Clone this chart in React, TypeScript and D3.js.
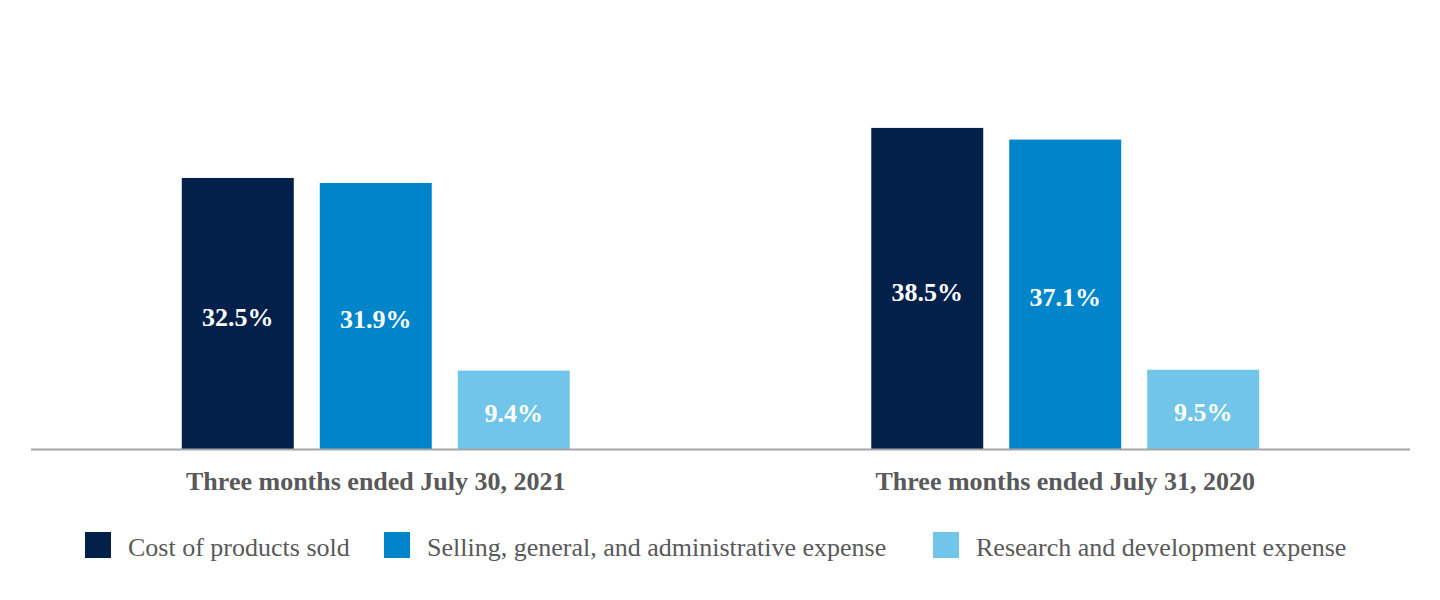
import { useEffect, useRef } from "react";
import * as d3 from "d3";

const periods = ["Three months ended July 30, 2021", "Three months ended July 31, 2020"];
const seriesNames = [
  "Cost of products sold",
  "Selling, general, and administrative expense",
  "Research and development expense",
];
const seriesColors = ["#03204a", "#0085ca", "#71c5e8"];
// values in percent, by period then series
const costValues = [32.5, 38.5];
const sgaValues = [31.9, 37.1];
const rdValues = [9.4, 9.5];

export default function App() {
  const svgRef = useRef<SVGSVGElement>(null);

  useEffect(() => {
    if (!svgRef.current) return;
    const width = 1440;
    const height = 600;
    const baseY = 449;

    const svg = d3.select(svgRef.current);
    svg.selectAll("*").remove();
    svg.attr("width", width).attr("height", height);

    const values = [costValues, sgaValues, rdValues];
    const rows = periods.map((p, i) => ({
      period: p,
      items: seriesNames.map((s, j) => ({ series: s, value: values[j][i], color: seriesColors[j] })),
    }));

    // Scales
    const x0 = d3.scaleBand<string>().domain(periods).range([31, 1410]).paddingInner(0.4373).paddingOuter(0.2187);
    const x1 = d3.scaleBand<string>().domain(seriesNames).range([0, x0.bandwidth()]).paddingInner(0.1884);
    const y = d3.scaleLinear().domain([0, 50]).range([baseY, 32]);

    const groups = svg
      .selectAll(".grp")
      .data(rows)
      .enter()
      .append("g")
      .attr("class", "grp")
      .attr("transform", (d) => `translate(${x0(d.period)},0)`);

    groups
      .selectAll("rect")
      .data((d) => d.items)
      .enter()
      .append("rect")
      .attr("x", (d) => x1(d.series)!)
      .attr("y", (d) => y(d.value))
      .attr("width", x1.bandwidth())
      .attr("height", (d) => baseY - y(d.value))
      .attr("fill", (d) => d.color);

    groups
      .selectAll("text.val")
      .data((d) => d.items)
      .enter()
      .append("text")
      .attr("class", "val")
      .attr("x", (d) => x1(d.series)! + x1.bandwidth() / 2)
      .attr("y", (d) => (y(d.value) + baseY) / 2 + 3)
      .attr("dy", "0.35em")
      .attr("text-anchor", "middle")
      .attr("fill", "#fff")
      .attr("font-family", "'Liberation Serif', 'Times New Roman', serif")
      .attr("font-weight", "bold")
      .attr("font-size", "26px")
      .text((d) => `${d.value.toFixed(1)}%`);

    // Axis line
    svg
      .append("line")
      .attr("x1", 31)
      .attr("x2", 1410)
      .attr("y1", baseY + 0.5)
      .attr("y2", baseY + 0.5)
      .attr("stroke", "#a6a6a6")
      .attr("stroke-width", 2);

    // Category labels
    svg
      .selectAll("text.cat")
      .data(periods)
      .enter()
      .append("text")
      .attr("class", "cat")
      .attr("x", (d) => x0(d)! + x0.bandwidth() / 2)
      .attr("y", 490)
      .attr("text-anchor", "middle")
      .attr("fill", "#595959")
      .attr("font-family", "'Liberation Serif', 'Times New Roman', serif")
      .attr("font-weight", "bold")
      .attr("font-size", "26px")
      .text((d) => d);

    // Legend
    const legendX = [85, 384, 933];
    const legend = svg
      .selectAll(".leg")
      .data(seriesNames)
      .enter()
      .append("g")
      .attr("class", "leg")
      .attr("transform", (_d, i) => `translate(${legendX[i]},532)`);

    legend
      .append("rect")
      .attr("width", 26)
      .attr("height", 26)
      .attr("fill", (_d, i) => seriesColors[i]);

    legend
      .append("text")
      .attr("x", 43)
      .attr("y", 24)
      .attr("fill", "#595959")
      .attr("font-family", "'Liberation Serif', 'Times New Roman', serif")
      .attr("font-size", "26px")
      .text((d) => d);
  }, []);

  return (
    <div style={{ position: "absolute", left: 0, top: 0, width: 1440, height: 600, background: "#fff" }}>
      <svg ref={svgRef} style={{ display: "block" }}></svg>
    </div>
  );
}
